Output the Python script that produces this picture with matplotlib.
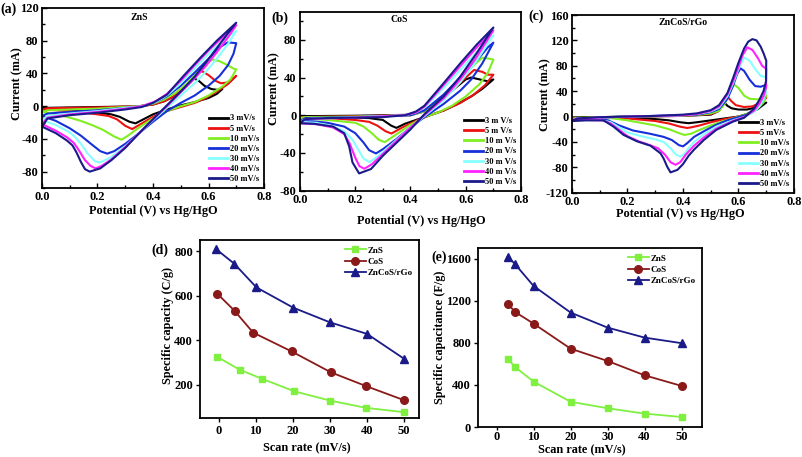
import matplotlib
matplotlib.use('Agg')
import matplotlib.pyplot as plt
from matplotlib.ticker import MultipleLocator, FormatStrFormatter

plt.rcParams['font.family'] = ['Liberation Serif', 'DejaVu Serif']
plt.rcParams['font.weight'] = 'bold'
plt.rcParams['axes.labelweight'] = 'bold'
plt.rcParams['axes.unicode_minus'] = False

# ---------------- data ----------------
scan_labels = ['3 mV/s', '5 mV/s', '10 mV/s', '20 mV/s', '30 mV/s', '40 mV/s', '50 mV/s']
scan_labels_b = ['3 m V/s', '5 m V/s', '10 m V/s', '20 m V/s', '30 m V/s', '40 m V/s', '50 m V/s']
cv_colors = ['#000000', '#ee1111', '#80ee20', '#1530d8', '#88ffff', '#ff22ff', '#1a1a8a']

# (a) ZnS CV loops: (potential V, current mA), forward then reverse scan
zns_3 = [(0, -3), (0.02, -2), (0.1, -1.5), (0.2, -1), (0.3, -0.5), (0.35, 0), (0.4, 2), (0.44, 6), (0.47, 11), (0.5, 18), (0.53, 28), (0.548, 34), (0.565, 31), (0.585, 25), (0.61, 21), (0.63, 20), (0.65, 21),
         (0.63, 15), (0.6, 10), (0.55, 5), (0.5, 1), (0.45, -4), (0.4, -10), (0.36, -17), (0.337, -21), (0.315, -19), (0.28, -13), (0.25, -10), (0.2, -8), (0.1, -5), (0, -3)]
zns_5 = [(0, -4), (0.02, -2.5), (0.2, -1.5), (0.35, 0), (0.4, 2), (0.44, 6), (0.47, 11), (0.5, 19), (0.53, 29), (0.555, 38), (0.575, 43), (0.6, 38), (0.625, 31), (0.645, 28), (0.67, 29), (0.7, 37),
         (0.67, 27), (0.63, 18), (0.59, 10), (0.55, 4), (0.5, -1), (0.45, -6), (0.4, -13), (0.36, -21), (0.325, -28), (0.3, -24), (0.27, -16), (0.24, -12), (0.2, -10), (0.1, -6), (0, -4)]
zns_10 = [(0, -7), (0.02, -5), (0.2, -3), (0.35, 0), (0.4, 3), (0.44, 8), (0.48, 16), (0.52, 27), (0.56, 41), (0.59, 52), (0.615, 57), (0.64, 55), (0.67, 50), (0.69, 46), (0.7, 45),
          (0.68, 33), (0.65, 24), (0.6, 13), (0.55, 5), (0.5, 0), (0.45, -6), (0.4, -15), (0.35, -26), (0.31, -36), (0.286, -41), (0.26, -37), (0.22, -29), (0.18, -23), (0.14, -18), (0.1, -14), (0.05, -10), (0, -7)]
zns_20 = [(0, -12), (0.02, -9), (0.1, -7), (0.2, -5), (0.3, -2), (0.36, 0), (0.41, 5), (0.45, 12), (0.5, 25), (0.55, 41), (0.6, 58), (0.64, 72), (0.67, 78), (0.7, 77),
          (0.69, 64), (0.67, 50), (0.64, 37), (0.6, 25), (0.55, 13), (0.5, 4), (0.45, -6), (0.4, -19), (0.35, -33), (0.3, -46), (0.26, -55), (0.235, -58), (0.21, -55), (0.18, -47), (0.14, -36), (0.1, -27), (0.05, -18), (0, -12)]
zns_30 = [(0, -17), (0.02, -12), (0.1, -9), (0.2, -6), (0.3, -2), (0.36, 0), (0.41, 5), (0.45, 13), (0.5, 28), (0.55, 46), (0.6, 64), (0.65, 80), (0.7, 92),
          (0.67, 76), (0.63, 58), (0.59, 42), (0.55, 28), (0.5, 13), (0.45, -2), (0.4, -17), (0.35, -33), (0.3, -49), (0.25, -62), (0.208, -69), (0.19, -67), (0.165, -58), (0.14, -46), (0.12, -38), (0.1, -32), (0.05, -23), (0, -17)]
zns_40 = [(0, -22), (0.02, -14), (0.1, -10), (0.2, -7), (0.3, -3), (0.36, 0), (0.41, 6), (0.45, 15), (0.5, 31), (0.55, 50), (0.6, 68), (0.65, 84), (0.7, 99),
          (0.67, 84), (0.63, 66), (0.59, 49), (0.55, 34), (0.5, 17), (0.45, 0), (0.4, -16), (0.35, -33), (0.3, -50), (0.25, -65), (0.215, -73), (0.193, -76), (0.175, -73), (0.155, -66), (0.135, -55), (0.115, -45), (0.09, -38), (0.05, -30), (0, -22)]
zns_50 = [(0, -25), (0.02, -15), (0.1, -11), (0.2, -8), (0.3, -4), (0.36, -1), (0.4, 4), (0.45, 14), (0.51, 37), (0.57, 59), (0.63, 80), (0.7, 102),
          (0.67, 89), (0.63, 71), (0.59, 53), (0.55, 36), (0.5, 18), (0.45, 1), (0.4, -16), (0.35, -33), (0.3, -51), (0.25, -66), (0.21, -76), (0.172, -80), (0.155, -77), (0.14, -68), (0.125, -57), (0.11, -48), (0.09, -42), (0.05, -33), (0, -25)]

# (b) CoS CV loops
cos_3 = [(0, -1), (0.2, -0.5), (0.4, 0.5), (0.45, 5), (0.5, 14), (0.55, 26), (0.6, 38), (0.62, 40), (0.65, 38), (0.68, 36), (0.7, 38),
         (0.66, 28), (0.62, 20), (0.57, 12), (0.52, 5), (0.47, 0), (0.42, -5), (0.38, -9), (0.349, -13.4), (0.33, -11), (0.3, -5), (0.25, -3), (0.1, -2), (0, -1.5)]
cos_5 = [(0, -2), (0.2, -1), (0.4, 0), (0.45, 4), (0.5, 13), (0.55, 26), (0.6, 40), (0.63, 48), (0.66, 46), (0.68, 43), (0.7, 43),
         (0.67, 32), (0.63, 22), (0.58, 13), (0.52, 5), (0.47, 0), (0.42, -6), (0.37, -13), (0.331, -19.4), (0.31, -17), (0.28, -11), (0.25, -7), (0.2, -5), (0.1, -3), (0, -2)]
cos_10 = [(0, -3), (0.02, -2), (0.2, -1.5), (0.4, 0), (0.45, 4), (0.5, 15), (0.55, 30), (0.6, 45), (0.64, 56), (0.66, 61), (0.685, 60), (0.7, 59),
          (0.68, 45), (0.65, 33), (0.6, 20), (0.55, 10), (0.5, 3), (0.45, -2), (0.4, -10), (0.35, -20), (0.307, -28.5), (0.285, -26), (0.26, -19), (0.23, -12), (0.2, -8), (0.1, -5), (0, -3)]
cos_20 = [(0, -6), (0.02, -3), (0.2, -2), (0.4, 0), (0.45, 5), (0.52, 22), (0.58, 40), (0.64, 58), (0.68, 72), (0.7, 77),
          (0.66, 55), (0.62, 38), (0.58, 26), (0.52, 12), (0.45, -2), (0.4, -13), (0.35, -25), (0.3, -36), (0.275, -40.5), (0.25, -37), (0.23, -29), (0.2, -19), (0.16, -12), (0.1, -8), (0.05, -6.5), (0, -6)]
cos_30 = [(0, -7), (0.02, -4), (0.2, -2), (0.38, 0), (0.42, 3), (0.45, 8), (0.52, 29), (0.58, 48), (0.64, 67), (0.7, 85),
          (0.64, 58), (0.58, 35), (0.52, 16), (0.45, -1), (0.4, -13), (0.35, -26), (0.3, -39), (0.27, -46), (0.251, -49.7), (0.23, -46), (0.21, -36), (0.19, -26), (0.16, -17), (0.12, -12), (0.06, -8), (0, -7)]
cos_40 = [(0, -8), (0.02, -4), (0.2, -2.5), (0.38, 0), (0.42, 3), (0.45, 9), (0.52, 32), (0.58, 52), (0.64, 72), (0.7, 90),
          (0.64, 62), (0.58, 38), (0.52, 18), (0.45, 0), (0.4, -13), (0.35, -27), (0.3, -41), (0.26, -52), (0.233, -56.7), (0.215, -54), (0.2, -45), (0.18, -30), (0.16, -20), (0.12, -13), (0.06, -9.5), (0, -8.5)]
cos_50 = [(0, -8), (0.02, -4), (0.1, -3), (0.2, -2.5), (0.3, -2), (0.38, 0), (0.42, 4), (0.45, 10), (0.52, 34), (0.58, 55), (0.64, 75), (0.7, 93),
          (0.64, 66), (0.58, 41), (0.52, 20), (0.45, 1), (0.4, -15), (0.35, -29), (0.3, -43), (0.257, -57), (0.214, -61.7), (0.19, -50), (0.178, -33), (0.16, -19), (0.12, -12), (0.05, -9), (0, -8.5)]

# (c) ZnCoS/rGo CV loops
zcs_3 = [(0, -2), (0.2, 0), (0.4, 1), (0.5, 3), (0.525, 8), (0.537, 17), (0.547, 23), (0.56, 17), (0.575, 13), (0.6, 11), (0.63, 11), (0.66, 14), (0.7, 22),
         (0.67, 12), (0.63, 4), (0.6, 0), (0.55, -3), (0.5, -6), (0.45, -9), (0.42, -10.5), (0.39, -9), (0.35, -6), (0.3, -4), (0.2, -2), (0.1, -1), (0, -2)]
zcs_5 = [(0, -3), (0.2, 0), (0.4, 1), (0.5, 4), (0.53, 9), (0.545, 20), (0.559, 32), (0.575, 24), (0.59, 18), (0.62, 15), (0.65, 16), (0.68, 22), (0.7, 30),
         (0.68, 18), (0.65, 8), (0.62, 2), (0.59, -1), (0.55, -4), (0.5, -9), (0.46, -14), (0.43, -17), (0.415, -18), (0.39, -16), (0.35, -11), (0.3, -7), (0.2, -3), (0.1, -1.5), (0, -3)]
zcs_10 = [(0, -4), (0.02, -2), (0.2, 0), (0.4, 1.5), (0.45, 2.5), (0.5, 5), (0.53, 9), (0.55, 20), (0.57, 40), (0.583, 51), (0.6, 45), (0.62, 33), (0.64, 28), (0.67, 27), (0.7, 33),
          (0.69, 22), (0.67, 13), (0.64, 6), (0.61, 1), (0.58, -3), (0.54, -8), (0.5, -14), (0.46, -21), (0.43, -27), (0.405, -29), (0.385, -26), (0.35, -20), (0.3, -14), (0.25, -10), (0.2, -6), (0.15, -3), (0.1, -2), (0, -4)]
zcs_20 = [(0, -6), (0.02, -3), (0.2, 0), (0.4, 2), (0.45, 3), (0.5, 7), (0.53, 12), (0.56, 28), (0.58, 48), (0.595, 67), (0.607, 76), (0.62, 72), (0.64, 58), (0.66, 48), (0.68, 47), (0.7, 50),
          (0.695, 32), (0.68, 20), (0.66, 10), (0.63, 3), (0.6, -1), (0.56, -6), (0.52, -13), (0.48, -22), (0.44, -32), (0.415, -42), (0.4, -47), (0.385, -45), (0.36, -37), (0.33, -32), (0.28, -27), (0.22, -22), (0.17, -14), (0.13, -6), (0.1, -4), (0, -6)]
zcs_30 = [(0, -6), (0.02, -3), (0.2, 0), (0.4, 2), (0.45, 4), (0.5, 8), (0.53, 14), (0.56, 32), (0.58, 52), (0.6, 75), (0.62, 93), (0.64, 88), (0.66, 75), (0.68, 64), (0.7, 62),
          (0.699, 38), (0.69, 27), (0.675, 16), (0.655, 7), (0.62, -1), (0.58, -6), (0.52, -16), (0.475, -28), (0.44, -40), (0.42, -50), (0.405, -59), (0.39, -63), (0.375, -60), (0.355, -50), (0.33, -40), (0.3, -36), (0.25, -31), (0.2, -25), (0.17, -17), (0.14, -9), (0.1, -5), (0, -6)]
zcs_40 = [(0, -6), (0.02, -3), (0.2, 0), (0.4, 2), (0.45, 4), (0.5, 9), (0.53, 16), (0.56, 35), (0.58, 55), (0.6, 78), (0.615, 97), (0.632, 109), (0.65, 105), (0.67, 92), (0.685, 80), (0.7, 75),
          (0.699, 45), (0.69, 32), (0.675, 20), (0.655, 9), (0.62, -1), (0.58, -7), (0.52, -19), (0.475, -33), (0.44, -46), (0.41, -60), (0.39, -72), (0.373, -76), (0.355, -72), (0.335, -60), (0.31, -50), (0.28, -45), (0.24, -39), (0.2, -31), (0.17, -21), (0.14, -11), (0.11, -6), (0.05, -5.5), (0, -6)]
zcs_50 = [(0, -7), (0.02, -3), (0.1, -1), (0.2, 0), (0.3, 1), (0.4, 3), (0.45, 5), (0.5, 10), (0.53, 18), (0.56, 37), (0.58, 60), (0.6, 85), (0.62, 107), (0.635, 118), (0.65, 122), (0.665, 120), (0.68, 110), (0.69, 100), (0.7, 88),
          (0.699, 55), (0.69, 40), (0.675, 26), (0.655, 12), (0.62, -2), (0.58, -8), (0.52, -21), (0.475, -37), (0.44, -52), (0.42, -62), (0.4, -75), (0.38, -84), (0.355, -88), (0.343, -79), (0.33, -66), (0.319, -58), (0.283, -46), (0.234, -39), (0.186, -29), (0.15, -16), (0.114, -6), (0.05, -6), (0, -7)]

# (d) specific capacity vs scan rate
d_zns_x = [-0.5, 5.7, 11.6, 20.4, 30.1, 39.6, 50]
d_zns_y = [326, 267, 227, 170, 128, 96, 76]
d_cos_x = [-0.3, 4.3, 9.3, 19.7, 30.3, 39.8, 50]
d_cos_y = [608, 532, 434, 349, 255, 193, 130]
d_zcs_x = [-0.6, 4.2, 10.2, 20.1, 30, 40, 50]
d_zcs_y = [808, 744, 637, 546, 480, 428, 316]

# (e) specific capacitance vs scan rate
e_x = [3, 5, 10, 20, 30, 40, 50]
e_zns_y = [649, 570, 431, 240, 178, 127, 95]
e_cos_y = [1172, 1093, 982, 744, 627, 491, 390]
e_zcs_y = [1619, 1547, 1340, 1087, 944, 849, 796]

series_names = ['ZnS', 'CoS', 'ZnCoS/rGo']

# ---------------- figure ----------------
W, H = 803, 457
fig = plt.figure(figsize=(W / 100, H / 100), dpi=100)


def box(l, t, r, b):
    return [l / W, 1 - b / H, (r - l) / W, (b - t) / H]


def ftext(x, y, s, **kw):
    fig.text(x / W, 1 - y / H, s, **kw)


TICK_FS = 9
LAB_FS = 8.8


def style_cv(ax, ylim, ymaj, ymin, xl_pos, yl_pos):
    ax.set_xlim(0, 0.8)
    ax.set_ylim(*ylim)
    ax.xaxis.set_major_locator(MultipleLocator(0.2))
    ax.xaxis.set_minor_locator(MultipleLocator(0.1))
    ax.yaxis.set_major_locator(MultipleLocator(ymaj))
    ax.yaxis.set_minor_locator(MultipleLocator(ymin))
    ax.tick_params(which='both', direction='in', top=False, right=False, labelsize=TICK_FS, width=1.0, pad=2.5)
    ax.tick_params(which='major', length=3.5)
    ax.tick_params(which='minor', length=2)
    for s in ax.spines.values():
        s.set_linewidth(1.3)
    ax.xaxis.set_major_formatter(FormatStrFormatter('%.1f'))
    ax.set_xlabel('Potential (V) vs Hg/HgO', fontsize=LAB_FS)
    ax.set_ylabel('Current (mA)', fontsize=LAB_FS)
    ax.xaxis.set_label_coords(*xl_pos)
    ax.yaxis.set_label_coords(*yl_pos)


def draw_cv(ax, loops, labels):
    for loop, lab, col in zip(loops, labels, cv_colors):
        v = [p[0] for p in loop]
        i = [p[1] for p in loop]
        ax.plot(v, i, color=col, lw=1.5, label=lab)
    leg = ax.legend(loc='lower right', frameon=False, handlelength=2.3,
                    labelspacing=0.25, borderaxespad=0.2, handletextpad=0.2,
                    prop={'weight': 'bold', 'size': 6})
    for ln in leg.get_lines():
        ln.set_linewidth(2.0)


axA = fig.add_axes(box(42, 8, 264, 188))
axB = fig.add_axes(box(300, 11.5, 521, 190.7))
axC = fig.add_axes(box(572, 15, 794, 192.7))
axD = fig.add_axes(box(200, 240, 419, 418))
axE = fig.add_axes(box(478, 248, 702, 427))

draw_cv(axA, [zns_3, zns_5, zns_10, zns_20, zns_30, zns_40, zns_50], scan_labels)
style_cv(axA, (-100, 120), 40, 20, (0.5, -0.094), (-0.085, 0.58))
axA.text(0.44, 0.945, 'ZnS', transform=axA.transAxes, ha='center', va='center', fontsize=7, fontweight='bold')

draw_cv(axB, [cos_3, cos_5, cos_10, cos_20, cos_30, cos_40, cos_50], scan_labels_b)
style_cv(axB, (-80, 110), 40, 20, (0.55, -0.136), (-0.088, 0.57))
axB.text(0.45, 0.955, 'CoS', transform=axB.transAxes, ha='center', va='center', fontsize=7, fontweight='bold')

draw_cv(axC, [zcs_3, zcs_5, zcs_10, zcs_20, zcs_30, zcs_40, zcs_50], scan_labels)
style_cv(axC, (-120, 160), 40, 20, (0.486, -0.086), (-0.095, 0.55))
axC.text(0.5, 0.955, 'ZnCoS/rGo', transform=axC.transAxes, ha='center', va='center', fontsize=7, fontweight='bold')

# (d)
c_zns, c_cos, c_zcs = '#80f040', '#8a1a1a', '#1a1a88'
axD.plot(d_zns_x, d_zns_y, color=c_zns, marker='s', ms=5, lw=1.3, label=series_names[0])
axD.plot(d_cos_x, d_cos_y, color=c_cos, marker='o', ms=5.5, lw=1.3, label=series_names[1])
axD.plot(d_zcs_x, d_zcs_y, color=c_zcs, marker='^', ms=6, lw=1.3, label=series_names[2])
axD.set_xlim(-5, 54)
axD.set_ylim(50, 850)
axD.xaxis.set_major_locator(MultipleLocator(10))
axD.yaxis.set_major_locator(MultipleLocator(200))
axD.set_xlabel('Scan rate (mV/s)', fontsize=LAB_FS)
axD.set_ylabel('Specific capacity (C/g)', fontsize=LAB_FS)
axD.xaxis.set_label_coords(0.487, -0.135)
axD.yaxis.set_label_coords(-0.12, 0.52)

# (e)
axE.plot(e_x, e_zns_y, color=c_zns, marker='s', ms=5, lw=1.3, label=series_names[0])
axE.plot(e_x, e_cos_y, color=c_cos, marker='o', ms=5.5, lw=1.3, label=series_names[1])
axE.plot(e_x, e_zcs_y, color=c_zcs, marker='^', ms=6, lw=1.3, label=series_names[2])
axE.set_xlim(-5, 55.5)
axE.set_ylim(0, 1700)
axE.xaxis.set_major_locator(MultipleLocator(10))
axE.yaxis.set_major_locator(MultipleLocator(400))
axE.set_xlabel('Scan rate (mV/s)', fontsize=LAB_FS)
axE.set_ylabel('Specific capacitance (F/g)', fontsize=LAB_FS)
axE.xaxis.set_label_coords(0.463, -0.094)
axE.yaxis.set_label_coords(-0.145, 0.5)

for ax in (axD, axE):
    ax.tick_params(which='both', direction='out', top=False, right=False, labelsize=TICK_FS, length=3, width=1.0, pad=2)
    for s in ax.spines.values():
        s.set_linewidth(1.3)
    ax.legend(loc='upper right', frameon=False, handlelength=2.3, labelspacing=0.3,
              borderaxespad=0.3, handletextpad=0.2, prop={'weight': 'bold', 'size': 6.5})
axE.tick_params(axis='x', pad=0.5, length=2.5)

# panel labels
ftext(0, 9, '(a)', fontsize=10, fontweight='bold', va='center', ha='left')
ftext(271, 18, '(b)', fontsize=10, fontweight='bold', va='center', ha='left')
ftext(528, 16, '(c)', fontsize=10, fontweight='bold', va='center', ha='left')
ftext(151, 250, '(d)', fontsize=10, fontweight='bold', va='center', ha='left')
ftext(431, 257, '(e)', fontsize=10, fontweight='bold', va='center', ha='left')

fig.savefig('out.png', dpi=100)
